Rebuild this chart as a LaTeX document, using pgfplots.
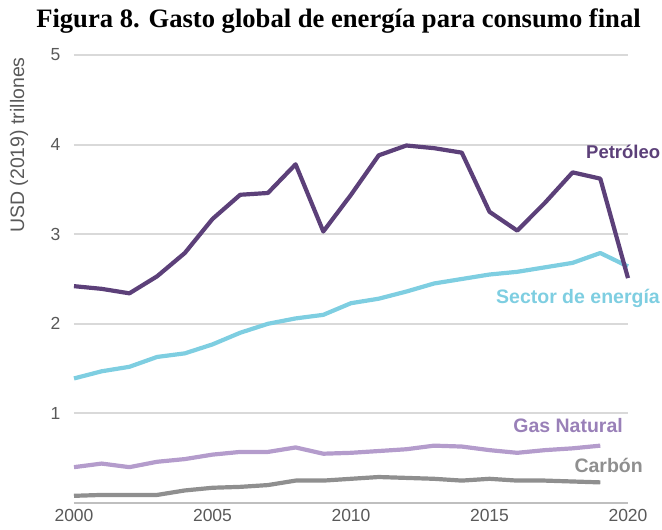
\documentclass[border=0pt]{standalone}
\usepackage{fontspec}
\setmainfont{Liberation Serif}
\newfontfamily\sansf{Liberation Sans}
\usepackage{pgfplots}
\pgfplotsset{compat=1.18}
\definecolor{petro}{HTML}{5C4079}
\definecolor{sector}{HTML}{7ECEE1}
\definecolor{gas}{HTML}{B49CCC}
\definecolor{gastext}{HTML}{9980B8}
\definecolor{carbon}{HTML}{8F8F8F}
\definecolor{gridc}{HTML}{D9D9D9}
\definecolor{basec}{HTML}{BFBFBF}
\definecolor{tickc}{HTML}{595959}
\begin{document}
\begin{tikzpicture}[x=1pt,y=1pt]
\path (-74,-27) rectangle (588,503);
\begin{axis}[
  scale only axis, width=554pt, height=448pt,
  at={(0,0)}, anchor=south west,
  xmin=2000, xmax=2020, ymin=0, ymax=5,
  axis line style={draw=none},
  major tick length=0pt,
  xtick={2000,2005,...,2020}, ytick={1,2,3,4,5},
  ymajorgrids, grid style={gridc, line width=2pt},
  tick label style={font=\sansf\fontsize{17.5}{20}\selectfont, text=tickc},
  /pgf/number format/assume math mode=true,
  xticklabel style={/pgf/number format/1000 sep={}, yshift=-2.5pt},
  yticklabel style={xshift=-10pt},
  clip=false,
  line join=round,
]
\draw[basec, line width=2pt] (axis cs:2000,0) -- (axis cs:2020,0);
\addplot[gas, line width=4.2pt] coordinates {
(2000,0.40)(2001,0.44)(2002,0.40)(2003,0.46)(2004,0.49)(2005,0.54)(2006,0.57)(2007,0.57)(2008,0.62)(2009,0.55)(2010,0.56)(2011,0.58)(2012,0.60)(2013,0.64)(2014,0.63)(2015,0.59)(2016,0.56)(2017,0.59)(2018,0.61)(2019,0.64)};
\addplot[carbon, line width=4.2pt] coordinates {
(2000,0.08)(2001,0.09)(2002,0.09)(2003,0.09)(2004,0.14)(2005,0.17)(2006,0.18)(2007,0.20)(2008,0.25)(2009,0.25)(2010,0.27)(2011,0.29)(2012,0.28)(2013,0.27)(2014,0.25)(2015,0.27)(2016,0.25)(2017,0.25)(2018,0.24)(2019,0.23)};
\addplot[sector, line width=4.2pt] coordinates {
(2000,1.39)(2001,1.47)(2002,1.52)(2003,1.63)(2004,1.67)(2005,1.77)(2006,1.90)(2007,2.00)(2008,2.06)(2009,2.10)(2010,2.23)(2011,2.28)(2012,2.36)(2013,2.45)(2014,2.50)(2015,2.55)(2016,2.58)(2017,2.63)(2018,2.68)(2019,2.79)(2020,2.64)};
\addplot[petro, line width=4.2pt] coordinates {
(2000,2.42)(2001,2.39)(2002,2.34)(2003,2.53)(2004,2.79)(2005,3.17)(2006,3.44)(2007,3.46)(2008,3.78)(2009,3.03)(2010,3.44)(2011,3.88)(2012,3.99)(2013,3.96)(2014,3.91)(2015,3.25)(2016,3.04)(2017,3.35)(2018,3.69)(2019,3.62)(2020,2.51)};
\end{axis}
\node[font=\bfseries\fontsize{26.6}{30}\selectfont, anchor=center] at (264.5,482) {Figura 8. Gasto global de energía para consumo final};
\node[font=\sansf\fontsize{19.5}{22}\selectfont, text=tickc, rotate=90, anchor=center] at (-55,358) {USD (2019) trillones};
\begin{scope}[every node/.style={font=\sansf\bfseries\fontsize{19.5}{22}\selectfont, inner sep=0pt}]
\node[text=petro, anchor=west, font=\sansf\bfseries\fontsize{18.5}{21}\selectfont] at (512,351) {Petróleo};
\node[text=sector, anchor=east] at (586,205) {Sector de energía};
\node[text=gastext, anchor=east] at (549,77) {Gas Natural};
\node[text=carbon, anchor=east] at (569,38) {Carbón};
\end{scope}
\end{tikzpicture}
\end{document}
